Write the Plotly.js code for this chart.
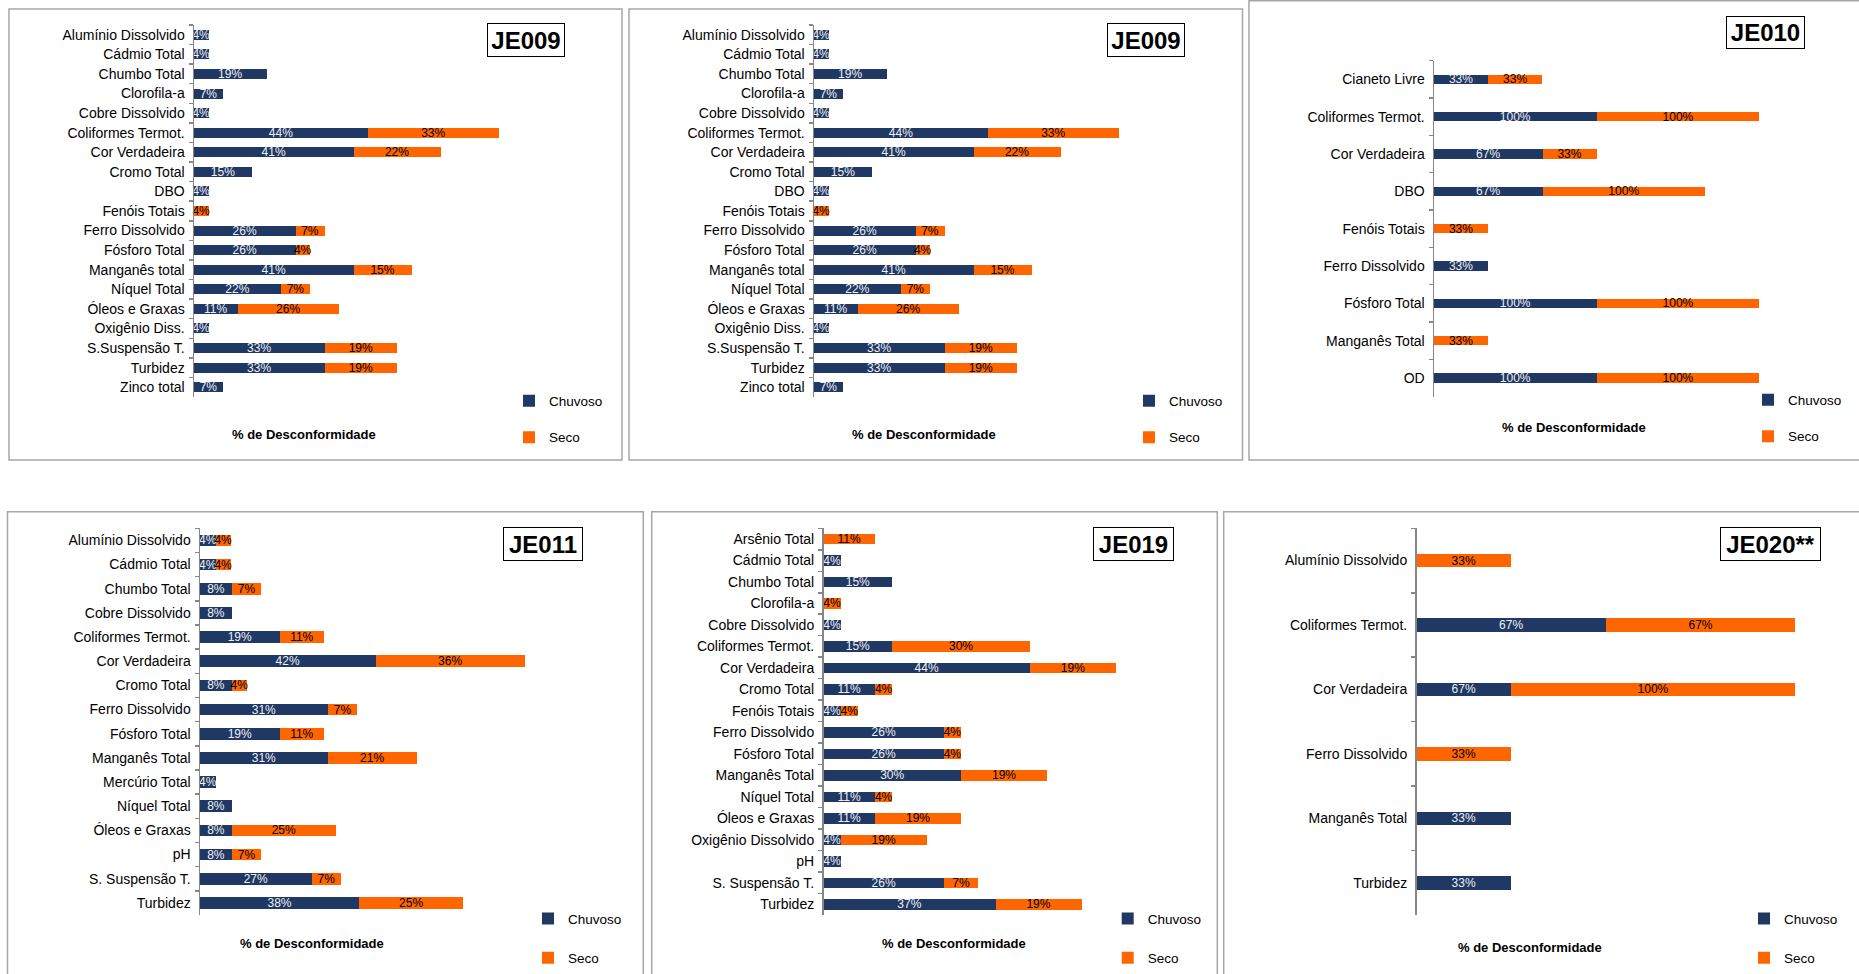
<!DOCTYPE html>
<html>
<head>
<meta charset="utf-8">
<script src="https://cdn.plot.ly/plotly-3.0.1.min.js"></script>
<style>
html,body{margin:0;padding:0;background:#fff;overflow:hidden}
#chart{width:1859px;height:974px}
</style>
</head>
<body>
<div id="chart"></div>
<script>
// ---------- DATA ----------
const cats009 = ['Alumínio Dissolvido','Cádmio Total','Chumbo Total','Clorofila-a','Cobre Dissolvido','Coliformes Termot.','Cor Verdadeira','Cromo Total','DBO','Fenóis Totais','Ferro Dissolvido','Fósforo Total','Manganês total','Níquel Total','Óleos e Graxas','Oxigênio Diss.','S.Suspensão T.','Turbidez','Zinco total'];
const chuv009 = [3.7,3.7,18.5,7.4,3.7,44.4,40.7,14.8,3.7,0,25.9,25.9,40.7,22.2,11.1,3.7,33.3,33.3,7.4];
const seco009 = [0,0,0,0,0,33.3,22.2,0,0,3.7,7.4,3.7,14.8,7.4,25.9,0,18.5,18.5,0];

const cats010 = ['Cianeto Livre','Coliformes Termot.','Cor Verdadeira','DBO','Fenóis Totais','Ferro Dissolvido','Fósforo Total','Manganês Total','OD'];
const chuv010 = [33.3,100,66.7,66.7,0,33.3,100,0,100];
const seco010 = [33.3,100,33.3,100,33.3,0,100,33.3,100];

const cats011 = ['Alumínio Dissolvido','Cádmio Total','Chumbo Total','Cobre Dissolvido','Coliformes Termot.','Cor Verdadeira','Cromo Total','Ferro Dissolvido','Fósforo Total','Manganês Total','Mercúrio Total','Níquel Total','Óleos e Graxas','pH','S. Suspensão T.','Turbidez'];
const chuv011 = [3.8,3.8,7.7,7.7,19.2,42.3,7.7,30.8,19.2,30.8,3.8,7.7,7.7,7.7,26.9,38.4];
const seco011 = [3.6,3.6,7.1,0,10.7,36.0,3.6,7.1,10.7,21.4,0,0,25.0,7.1,7.1,25.0];

const cats019 = ['Arsênio Total','Cádmio Total','Chumbo Total','Clorofila-a','Cobre Dissolvido','Coliformes Termot.','Cor Verdadeira','Cromo Total','Fenóis Totais','Ferro Dissolvido','Fósforo Total','Manganês Total','Níquel Total','Óleos e Graxas','Oxigênio Dissolvido','pH','S. Suspensão T.','Turbidez'];
const chuv019 = [0,3.7,14.8,0,3.7,14.8,44.4,11.1,3.7,25.9,25.9,29.6,11.1,11.1,3.7,3.7,25.9,37.0];
const seco019 = [11.1,0,0,3.7,0,29.6,18.5,3.7,3.7,3.7,3.7,18.5,3.7,18.5,18.5,0,7.4,18.5];

const cats020 = ['Alumínio Dissolvido','Coliformes Termot.','Cor Verdadeira','Ferro Dissolvido','Manganês Total','Turbidez'];
const chuv020 = [0,66.7,33.3,0,33.3,33.3];
const seco020 = [33.3,66.7,100,33.3,0,0];
const chuvLabels020 = ['','67%','67%','','33%','33%'];

const seriesNames = ['Chuvoso','Seco'];
const panelTitles = ['JE009','JE009','JE010','JE011','JE019','JE020**'];
const xTitle = '% de Desconformidade';

// ---------- LAYOUT GEOMETRY (pixels) ----------
const W = 1859, H = 974;
const fx = p => p / W;
const fy = p => 1 - p / H;
const NAVY = '#1f3864', ORANGE = '#ff6600';
const FONT = 'Liberation Sans, Arial, sans-serif';

const panels = [
  {cats:cats009, chuv:chuv009, seco:seco009, ax:194,   top:25,    bot:397, ppp:3.92, span:410, bw:0.51, border:[9,9,622,460],        box:[525.8,39.7,76,32], legText:549,    legTop:385.5, gap:15.8, xt:[304,434]},
  {cats:cats009, chuv:chuv009, seco:seco009, ax:814,   top:25,    bot:397, ppp:3.92, span:410, bw:0.51, border:[629,9,1242.5,460],   box:[1145.9,39.7,76,32], legText:1169,  legTop:385.5, gap:15.8, xt:[924,434]},
  {cats:cats010, chuv:chuv010, seco:seco010, ax:1434,  top:60.7,  bot:396.7, ppp:1.627, span:400, bw:0.25, border:[1249,0.8,1875,460], box:[1765.7,32,77,31], legText:1788,   legTop:384.5, gap:15.8, xt:[1573.5,427]},
  {cats:cats011, chuv:chuv011, seco:seco011, ax:200,   top:528.3, bot:915, ppp:4.15, span:420, bw:0.48, border:[7.5,511.7,643.3,990],  box:[543,544,78,32],   legText:568,    legTop:903.3, gap:18.5, xt:[311.6,943]},
  {cats:cats019, chuv:chuv019, seco:seco019, ax:823.5, top:528.3, bot:915, ppp:4.65, span:380, bw:0.49, border:[651.7,511.7,1217.3,990], box:[1133,544,79,32], legText:1147.7, legTop:903.3, gap:18.5, xt:[954.3,943]},
  {cats:cats020, chuv:chuv020, seco:seco020, ax:1416.5,top:528.3, bot:915, ppp:2.84, span:420, bw:0.21, border:[1223.7,511.7,1875,990], box:[1770,544,99,32], legText:1784,   legTop:903.3, gap:18.5, xt:[1530.4,947], chuvLabels:chuvLabels020}
];

const pct = arr => arr.map(v => v > 0 ? Math.round(v) + '%' : '');

const data = [];
const layout = {
  width: W, height: H,
  margin: {l:0, r:0, t:0, b:0, pad:0},
  paper_bgcolor: '#ffffff',
  plot_bgcolor: 'rgba(0,0,0,0)',
  barmode: 'stack',
  showlegend: true,
  font: {family: FONT, color: '#000'},
  shapes: [],
  annotations: []
};

panels.forEach((p, i) => {
  const n = i + 1;
  const xa = n === 1 ? 'x' : 'x' + n;
  const ya = n === 1 ? 'y' : 'y' + n;
  const xk = n === 1 ? 'xaxis' : 'xaxis' + n;
  const yk = n === 1 ? 'yaxis' : 'yaxis' + n;
  const lk = n === 1 ? 'legend' : 'legend' + n;

  const common = {
    type: 'bar', orientation: 'h', y: p.cats, xaxis: xa, yaxis: ya, width: p.bw,
    textposition: 'inside', insidetextanchor: 'middle', textangle: 0,
    constraintext: 'none', cliponaxis: false, hoverinfo: 'skip',
    legend: lk
  };
  data.push(Object.assign({}, common, {
    name: seriesNames[0], x: p.chuv, text: p.chuvLabels || pct(p.chuv),
    marker: {color: NAVY},
    textfont: {family: FONT, size: 12, color: '#f0f0f0'},
    legendgroup: 'c' + n
  }));
  data.push(Object.assign({}, common, {
    name: seriesNames[1], x: p.seco, text: pct(p.seco),
    marker: {color: ORANGE},
    textfont: {family: FONT, size: 12, color: '#000'},
    legendgroup: 's' + n
  }));

  layout[xk] = {
    domain: [fx(p.ax), fx(p.ax + p.span)], anchor: ya,
    range: [0, p.span / p.ppp], autorange: false, visible: false, fixedrange: true
  };
  layout[yk] = {
    domain: [fy(p.bot), fy(p.top)], anchor: xa, type: 'category',
    range: [p.cats.length - 0.5, -0.5], autorange: false,
    showline: true, linecolor: '#868686', linewidth: 1.5,
    ticks: 'outside', tickson: 'boundaries', ticklen: 4, tickcolor: '#868686', tickwidth: 1.5,
    ticklabelstandoff: 5,
    tickfont: {family: FONT, size: 14, color: '#000'},
    showgrid: false, zeroline: false, fixedrange: true
  };
  layout[lk] = {
    x: fx(p.legText - 40), y: fy(p.legTop), xanchor: 'left', yanchor: 'top',
    orientation: 'v', bgcolor: 'rgba(0,0,0,0)', borderwidth: 0,
    font: {family: FONT, size: 13.5, color: '#000'},
    tracegroupgap: p.gap, traceorder: 'grouped'
  };

  const b = p.border;
  layout.shapes.push({
    type: 'rect', xref: 'paper', yref: 'paper',
    x0: fx(b[0]), x1: fx(b[2]), y0: fy(b[3]), y1: fy(b[1]),
    line: {color: '#a6a6a6', width: 1.5}, fillcolor: 'rgba(0,0,0,0)', layer: 'below'
  });

  layout.annotations.push({
    xref: 'paper', yref: 'paper', x: fx(p.box[0]), y: fy(p.box[1]),
    xanchor: 'center', yanchor: 'middle', showarrow: false,
    text: '<b>' + panelTitles[i] + '</b>',
    font: {family: FONT, size: 24, color: '#000'},
    width: p.box[2], height: p.box[3], borderpad: 0,
    bordercolor: '#000', borderwidth: 1, bgcolor: '#fff'
  });
  layout.annotations.push({
    xref: 'paper', yref: 'paper', x: fx(p.xt[0]), y: fy(p.xt[1]),
    xanchor: 'center', yanchor: 'middle', showarrow: false,
    text: '<b>' + xTitle + '</b>',
    font: {family: FONT, size: 13, color: '#000'}
  });
});

Plotly.newPlot('chart', data, layout, {staticPlot: true, displayModeBar: false});
</script>
</body>
</html>
